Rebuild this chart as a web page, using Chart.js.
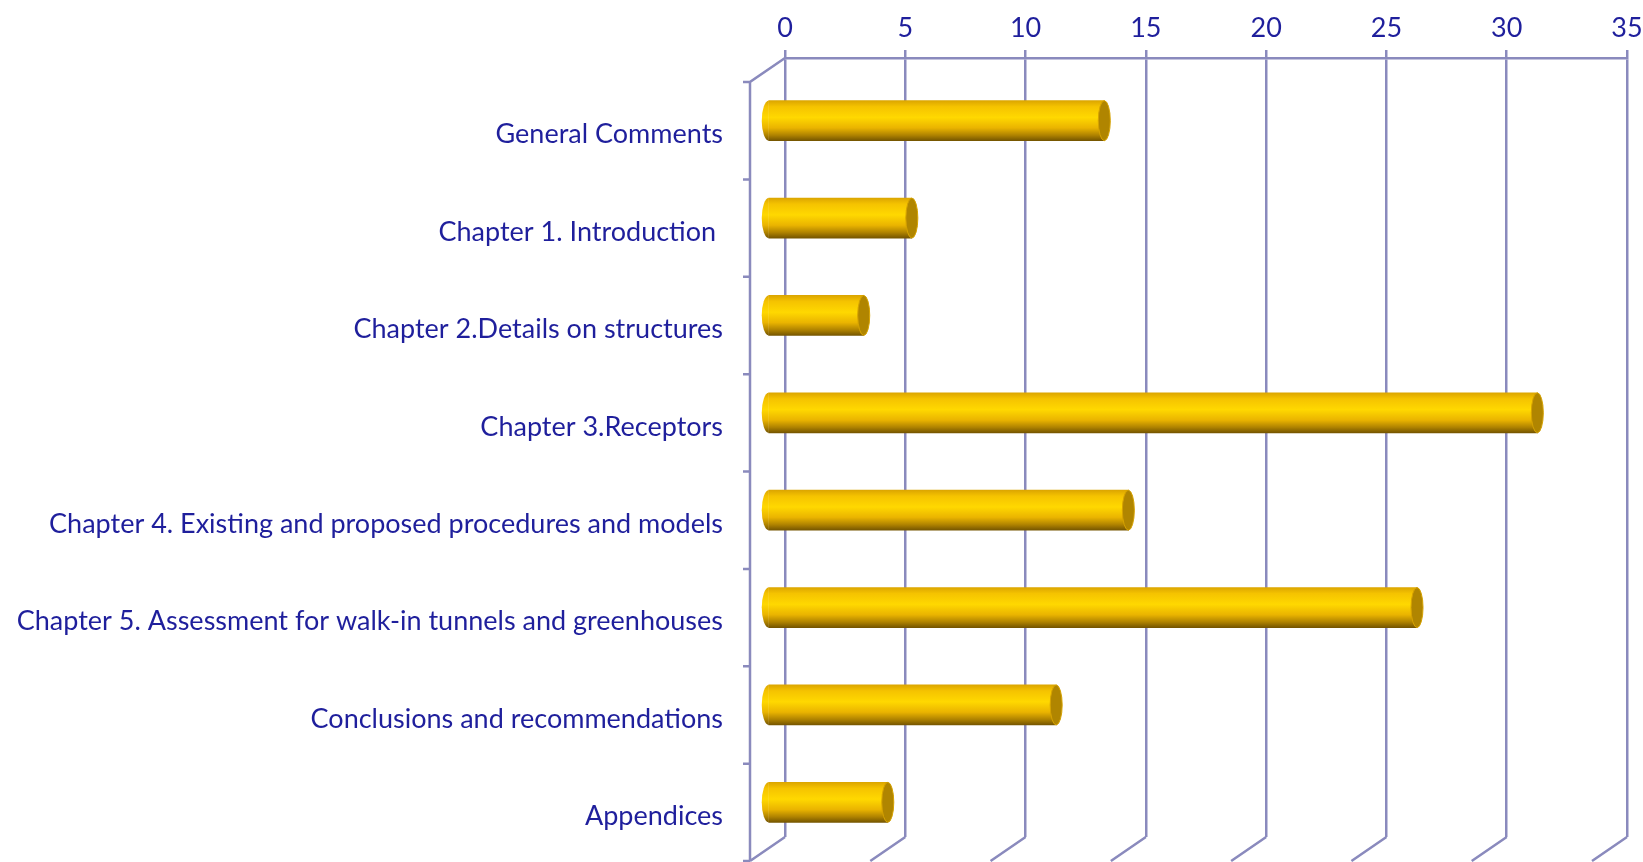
<!DOCTYPE html>
<html>
<head>
<meta charset="utf-8">
<script src="https://cdn.jsdelivr.net/npm/chart.js@4"></script>
<style>
  html, body { margin: 0; padding: 0; background: #fff; }
  #wrap { width: 1643px; height: 862px; }
</style>
</head>
<body>
<div id="wrap"><canvas id="chart" width="1643" height="862"></canvas></div>
<script>
var categories = ["General Comments", "Chapter 1. Introduction ", "Chapter 2.Details on structures", "Chapter 3.Receptors",
    "Chapter 4. Existing and proposed procedures and models", "Chapter 5. Assessment for walk-in tunnels and greenhouses",
    "Conclusions and recommendations", "Appendices"];
var counts = [14, 6, 4, 32, 15, 27, 12, 5];
var axisMin = 0, axisMax = 35, axisStep = 5;

var textColor = "#1f1f9c";
var lineColor = "#8a8abd";
var depthX = 35, depthY = 24;   // 3d offset of the front plane
var labelFont = { family: "Lato", size: 27 };

// cylinder shading, top to bottom
function barGradient(ctx, top, bottom) {
    var g = ctx.createLinearGradient(0, top, 0, bottom);
    g.addColorStop(0, "#dca600");
    g.addColorStop(0.15, "#f5c300");
    g.addColorStop(0.42, "#ffd800");
    g.addColorStop(0.68, "#eab400");
    g.addColorStop(0.86, "#b08300");
    g.addColorStop(1, "#765600");
    return g;
}

var frame3d = {
    id: "frame3d",
    beforeDatasetsDraw: function (chart) {
        var ctx = chart.ctx, a = chart.chartArea, x = chart.scales.x, y = chart.scales.y;
        ctx.save();
        ctx.strokeStyle = lineColor;
        ctx.lineWidth = 2.5;
        ctx.beginPath();
        for (var v = axisMin; v <= axisMax; v += axisStep) {
            var px = x.getPixelForValue(v);
            ctx.moveTo(px, a.bottom);
            ctx.lineTo(px - depthX, a.bottom + depthY);
        }
        ctx.moveTo(a.left, a.top);
        ctx.lineTo(a.left - depthX, a.top + depthY);
        ctx.lineTo(a.left - depthX, a.bottom + depthY);
        for (var i = 0; i <= categories.length; i++) {
            var py = y.getPixelForValue(i - 0.5) + depthY;
            ctx.moveTo(a.left - depthX - 7, py);
            ctx.lineTo(a.left - depthX, py);
        }
        ctx.stroke();
        ctx.restore();
        // bars sit half way in depth
        ctx.save();
        ctx.translate(-depthX / 2, depthY / 2 + 2);
    },
    afterDatasetsDraw: function (chart) {
        var ctx = chart.ctx;
        chart.getDatasetMeta(0).data.forEach(function (bar) {
            var h = bar.height / 2;
            ctx.fillStyle = barGradient(ctx, bar.y - h, bar.y + h);
            ctx.beginPath();
            ctx.ellipse(bar.base, bar.y, 7, h, 0, Math.PI / 2, Math.PI * 1.5);
            ctx.fill();
            ctx.fillStyle = "#b08500";
            ctx.strokeStyle = "#d6a200";
            ctx.lineWidth = 1;
            ctx.beginPath();
            ctx.ellipse(bar.x, bar.y, 6, h, 0, 0, Math.PI * 2);
            ctx.fill();
            ctx.stroke();
        });
        ctx.restore();
    }
};

new Chart(document.getElementById("chart"), {
    type: "bar",
    data: {
        labels: categories,
        datasets: [{
            data: counts,
            barThickness: 40,
            borderWidth: 0,
            backgroundColor: function (c) {
                var y = c.chart.scales.y;
                var py = y ? y.getPixelForValue(c.dataIndex) : NaN;
                if (!isFinite(py)) return "#ffd700";
                return barGradient(c.chart.ctx, py - 20, py + 20);
            }
        }]
    },
    options: {
        indexAxis: "y",
        responsive: false,
        animation: false,
        layout: { padding: { top: 0, left: 0, right: 16, bottom: 25 } },
        plugins: { legend: { display: false }, tooltip: { enabled: false } },
        scales: {
            x: {
                position: "top",
                min: axisMin,
                max: axisMax,
                ticks: { stepSize: axisStep, color: textColor, font: labelFont, padding: 6 },
                grid: { color: lineColor, lineWidth: 2.5, tickLength: 8, drawTicks: true },
                border: { color: lineColor, width: 2.5 },
                afterFit: function (s) { s.height = 58; s.paddingLeft = 0; s.paddingRight = 0; }
            },
            y: {
                ticks: { color: textColor, font: labelFont, padding: 62, labelOffset: 28 },
                grid: { display: false, drawTicks: false },
                border: { display: false },
                afterFit: function (s) { s.width = 785; s.paddingTop = 0; s.paddingBottom = 0; }
            }
        }
    },
    plugins: [frame3d]
});
</script>
</body>
</html>
